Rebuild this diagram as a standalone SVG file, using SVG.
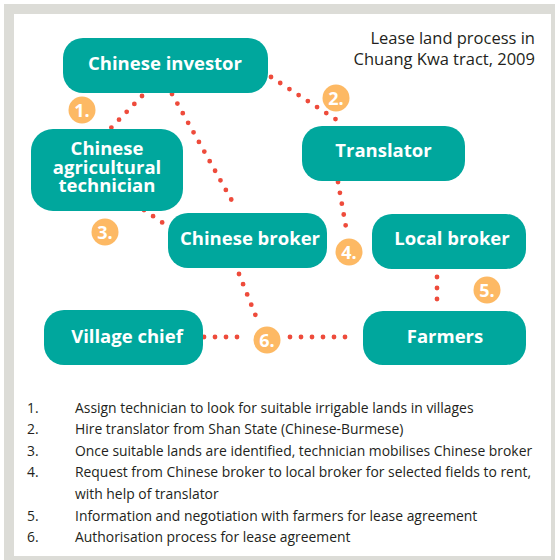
<svg xmlns="http://www.w3.org/2000/svg" width="555" height="560" viewBox="0 0 555 560">
<style>
.node{fill:#00a79d}
.lbl{font-family:"Open Sans","Noto Sans",sans-serif;font-weight:bold;font-size:18.5px;fill:#fff;text-anchor:middle}
.conn{stroke:#ee4b3b;stroke-width:4.8;stroke-linecap:round;stroke-dasharray:0 11;fill:none}
.badge circle{fill:#fdb964}
.badge text{font-family:"Open Sans","Noto Sans",sans-serif;font-weight:bold;font-size:18px;fill:#fff;text-anchor:middle}
.title{font-family:"Open Sans","Noto Sans",sans-serif;font-size:16.5px;fill:#231f20;text-anchor:end}
.leg{font-family:"Open Sans","Noto Sans",sans-serif;font-size:13.9px;fill:#231f20}
</style>
<rect x="0" y="0" width="555" height="560" fill="#fff"/>
<rect x="4" y="4" width="551" height="556" fill="#dcdcd7"/>
<rect x="14" y="14" width="537" height="542" fill="#fff"/>

<g id="title">
<text class="title" x="535" y="44">Lease land process in</text>
<text class="title" x="535" y="65">Chuang Kwa tract, 2009</text>
</g>

<g id="connectors">
<line class="conn" x1="142" y1="96" x2="111" y2="128"/>
<line class="conn" x1="172" y1="94" x2="236" y2="208"/>
<line class="conn" x1="271" y1="77" x2="343" y2="124"/>
<line class="conn" x1="144" y1="210" x2="163" y2="223"/>
<line class="conn" x1="338" y1="182" x2="347" y2="233"/>
<line class="conn" x1="239" y1="274" x2="259" y2="324"/>
<line class="conn" x1="204" y1="337" x2="247" y2="337"/>
<line class="conn" x1="290" y1="337" x2="356" y2="337"/>
<line class="conn" x1="437" y1="277" x2="437" y2="308"/>
</g>

<g id="chinese-investor">
<rect class="node" x="63" y="38" width="205" height="55" rx="20"/>
<text class="lbl" x="165" y="70">Chinese investor</text>
</g>
<g id="chinese-agricultural-technician">
<rect class="node" x="31" y="129" width="152" height="82" rx="22"/>
<text class="lbl" x="107" y="155">Chinese</text>
<text class="lbl" x="107" y="173.5">agricultural</text>
<text class="lbl" x="107" y="192">technician</text>
</g>
<g id="translator">
<rect class="node" x="302" y="126" width="163" height="55" rx="20"/>
<text class="lbl" x="383.5" y="157">Translator</text>
</g>
<g id="chinese-broker">
<rect class="node" x="168" y="213" width="159" height="55" rx="20"/>
<text class="lbl" x="250" y="245">Chinese broker</text>
</g>
<g id="local-broker">
<rect class="node" x="372" y="214" width="154" height="55" rx="20"/>
<text class="lbl" x="452" y="245">Local broker</text>
</g>
<g id="village-chief">
<rect class="node" x="44" y="310" width="159" height="55" rx="20"/>
<text class="lbl" x="127" y="342.5">Village chief</text>
</g>
<g id="farmers">
<rect class="node" x="363" y="311" width="163" height="54" rx="20"/>
<text class="lbl" x="445" y="342.5">Farmers</text>
</g>

<g id="badges">
<g class="badge"><circle cx="82" cy="110" r="13.5"/><text x="82" y="116.5">1.</text></g>
<g class="badge"><circle cx="336" cy="98" r="13.5"/><text x="336" y="104.5">2.</text></g>
<g class="badge"><circle cx="105" cy="232" r="13.5"/><text x="105" y="238.5">3.</text></g>
<g class="badge"><circle cx="349" cy="252" r="13.5"/><text x="349" y="258.5">4.</text></g>
<g class="badge"><circle cx="487" cy="290" r="13.5"/><text x="487" y="296.5">5.</text></g>
<g class="badge"><circle cx="267" cy="340" r="13.5"/><text x="267" y="346.5">6.</text></g>
</g>

<g id="legend">
<text class="leg" x="27" y="412.5">1.</text><text class="leg" x="75" y="412.5">Assign technician to look for suitable irrigable lands in villages</text>
<text class="leg" x="27" y="434">2.</text><text class="leg" x="75" y="434">Hire translator from Shan State (Chinese-Burmese)</text>
<text class="leg" x="27" y="455.7">3.</text><text class="leg" x="75" y="455.7">Once suitable lands are identified, technician mobilises Chinese broker</text>
<text class="leg" x="27" y="477.3">4.</text><text class="leg" x="75" y="477.3">Request from Chinese broker to local broker for selected fields to rent,</text>
<text class="leg" x="75" y="499">with help of translator</text>
<text class="leg" x="27" y="520.6">5.</text><text class="leg" x="75" y="520.6">Information and negotiation with farmers for lease agreement</text>
<text class="leg" x="27" y="542.3">6.</text><text class="leg" x="75" y="542.3">Authorisation process for lease agreement</text>
</g>
</svg>
